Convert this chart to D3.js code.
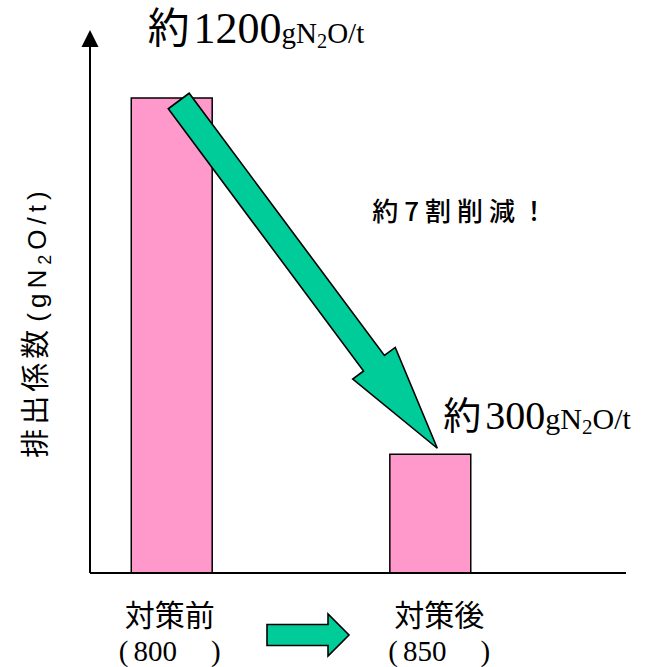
<!DOCTYPE html>
<html>
<head>
<meta charset="utf-8">
<script src="https://cdn.jsdelivr.net/npm/d3@7"></script>
<style>
  html, body { margin: 0; padding: 0; background: #fff; }
  svg { display: block; }
</style>
</head>
<body>
<svg id="chart" width="656" height="667"></svg>
<script>
// Emission factor of N2O before and after countermeasures
const categories = ["対策前", "対策後"];
const loads = ["800", "850"];
const values = [1200, 300];
const valuePrefix = "約";
const unitParts = ["gN", "2", "O/t"];
const yTitle = "排出係数";
const reductionNote = "約7割削減！";

const W = 656, H = 667;
const svg = d3.select("#chart");

const CJK = "'Noto Sans CJK JP', 'Noto Sans', sans-serif";
const SERIF = "'Liberation Serif', 'DejaVu Serif', serif";
const SANS = "'Liberation Sans', Arial, sans-serif";
const PINK = "#FF99CC";
const GREEN = "#00CC99";

const axisX = 90, axisEnd = 626, baseY = 573;

const x = d3.scaleBand()
  .domain(categories)
  .range([axisX, axisEnd])
  .paddingInner(0.687)
  .paddingOuter(0.38)
  .align(0.21);

const y = d3.scaleLinear()
  .domain([0, d3.max(values)])
  .range([baseY, 98]);

// bars
svg.selectAll("rect.bar")
  .data(values)
  .join("rect")
  .attr("class", "bar")
  .attr("x", (d, i) => x(categories[i]))
  .attr("y", d => y(d))
  .attr("width", x.bandwidth())
  .attr("height", d => y(0) - y(d))
  .attr("fill", PINK)
  .attr("stroke", "#000")
  .attr("stroke-width", 1.5);

// axes: x baseline and y axis with arrowhead
svg.append("line")
  .attr("x1", axisX).attr("x2", axisEnd)
  .attr("y1", baseY).attr("y2", baseY)
  .attr("stroke", "#000").attr("stroke-width", 2);
svg.append("line")
  .attr("x1", axisX).attr("x2", axisX)
  .attr("y1", baseY).attr("y2", 46)
  .attr("stroke", "#000").attr("stroke-width", 2);
svg.append("path")
  .attr("d", `M${axisX},30 L${axisX - 8.5},47 L${axisX + 8.5},47 Z`)
  .attr("fill", "#000");

// y axis title (rotated)
const yt = svg.append("text")
  .attr("transform", "translate(46,322) rotate(-90)")
  .attr("text-anchor", "middle")
  .attr("font-size", 29)
  .attr("fill", "#000");
yt.append("tspan").attr("font-family", CJK).attr("letter-spacing", 4).text(yTitle);
yt.append("tspan").attr("font-family", SANS).attr("font-size", 26).attr("letter-spacing", 5).attr("dx", 4).text("(" + unitParts[0]);
yt.append("tspan").attr("font-family", SANS).attr("font-size", 18).attr("dy", 5).attr("letter-spacing", 5).text(unitParts[1]);
yt.append("tspan").attr("font-family", SANS).attr("font-size", 26).attr("dy", -5).attr("letter-spacing", 5).text(unitParts[2] + ")");

// value labels with unit in smaller serif type
function valueLabel(xPos, yPos, v, size, subSize) {
  const t = svg.append("text")
    .attr("x", xPos).attr("y", yPos)
    .attr("fill", "#000");
  t.append("tspan").attr("font-family", CJK).attr("font-size", size * 0.95).text(valuePrefix);
  t.append("tspan").attr("font-family", SERIF).attr("font-size", size).attr("dx", 4).text(v);
  t.append("tspan").attr("font-family", SERIF).attr("font-size", subSize).text(unitParts[0]);
  t.append("tspan").attr("font-family", SERIF).attr("font-size", subSize * 0.7).attr("dy", 5).text(unitParts[1]);
  t.append("tspan").attr("font-family", SERIF).attr("font-size", subSize).attr("dy", -5).text(unitParts[2]);
}
const c0 = x(categories[0]) + x.bandwidth() / 2;
const c1 = x(categories[1]) + x.bandwidth() / 2;
valueLabel(c0 - 24, y(values[0]) - 55, values[0], 44, 29);
valueLabel(c1 + 13, y(values[1]) - 25, values[1], 40, 30);

// reduction arrow from the first bar top to the second bar top
(function bigArrow() {
  const T = [c0 + 7, y(values[0]) + 3];
  const P = [c1 + 7, y(values[1]) - 6];
  const dx = P[0] - T[0], dy = P[1] - T[1];
  const len = Math.hypot(dx, dy);
  const u = [dx / len, dy / len];
  const n = [-u[1], u[0]];
  const shaft = 13, head = 26.5, headLen = 106;
  const Hb = [P[0] - u[0] * headLen, P[1] - u[1] * headLen];
  const pt = (b, k) => [b[0] + n[0] * k, b[1] + n[1] * k];
  const pts = [pt(T, shaft), pt(Hb, shaft), pt(Hb, head), P, pt(Hb, -head), pt(Hb, -shaft), pt(T, -shaft)];
  svg.append("path")
    .attr("d", "M" + pts.map(p => p.join(",")).join("L") + "Z")
    .attr("fill", GREEN)
    .attr("stroke", "#000")
    .attr("stroke-width", 1.6)
    .attr("stroke-linejoin", "miter");
})();

svg.append("text")
  .attr("x", c1 - 58).attr("y", 221)
  .attr("font-family", CJK)
  .attr("font-size", 26)
  .attr("font-weight", 500)
  .attr("letter-spacing", 6)
  .attr("fill", "#000")
  .text(reductionNote);

// category labels and their loads
const shifts = [-2, 9];
categories.forEach((c, i) => {
  const cx = x(c) + x.bandwidth() / 2 + shifts[i];
  svg.append("text")
    .attr("x", cx).attr("y", 626)
    .attr("text-anchor", "middle")
    .attr("font-family", CJK)
    .attr("font-size", 30)
    .attr("fill", "#000")
    .text(c);
  const t = svg.append("text")
    .attr("x", cx).attr("y", 661)
    .attr("text-anchor", "middle")
    .attr("font-family", SERIF)
    .attr("font-size", 29)
    .attr("fill", "#000");
  t.append("tspan").text("(");
  t.append("tspan").attr("dx", 5).text(loads[i]);
  t.append("tspan").attr("dx", 34).text(")");
});

// small arrow between the two categories
(function smallArrow() {
  const xs = (c0 + c1) / 2 - 34, xe = xs + 82, cy = 635;
  const bodyH = 10.5, headH = 21, headL = 21;
  const pts = [[xs, cy - bodyH], [xe - headL, cy - bodyH], [xe - headL, cy - headH], [xe, cy],
    [xe - headL, cy + headH], [xe - headL, cy + bodyH], [xs, cy + bodyH]];
  svg.append("path")
    .attr("d", "M" + pts.map(p => p.join(",")).join("L") + "Z")
    .attr("fill", GREEN)
    .attr("stroke", "#000")
    .attr("stroke-width", 1.6);
})();
</script>
</body>
</html>
